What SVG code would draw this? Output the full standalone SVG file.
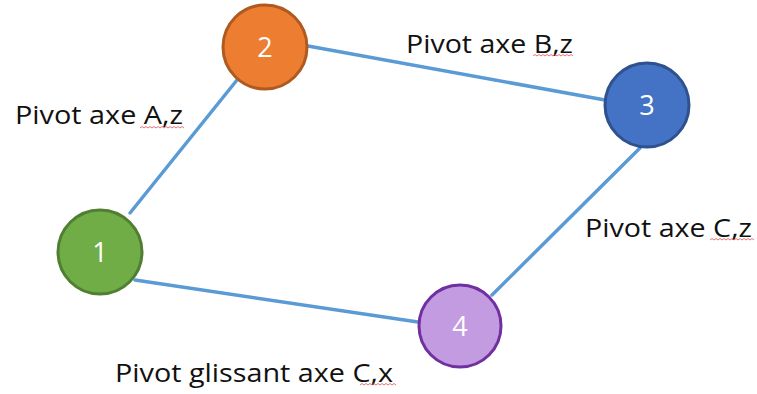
<svg xmlns="http://www.w3.org/2000/svg" width="757" height="394" viewBox="0 0 757 394">
<defs>
<style>
.edge{stroke:#5B9BD5;stroke-width:3.5;fill:none;stroke-linecap:round}
.lbl{font-family:"Open Sans","Liberation Sans",sans-serif;font-size:26px;fill:#111}
.num{font-family:"Open Sans","Liberation Sans",sans-serif;font-size:27px;fill:#fff;text-anchor:middle}
.sq{stroke:#E05050;stroke-width:1;fill:none;opacity:0.8}
</style>
</defs>
<rect width="757" height="394" fill="#fff"/>
<g id="connectors">
<line class="edge" x1="130" y1="213" x2="237" y2="80"/>
<line class="edge" x1="308" y1="46" x2="605" y2="100"/>
<line class="edge" x1="640" y1="148" x2="492" y2="295"/>
<line class="edge" x1="135" y1="280" x2="418" y2="322"/>
</g>
<g id="node1"><circle cx="100" cy="252" r="42" fill="#70AD47" stroke="#507E32" stroke-width="3"/><text class="num" x="100" y="262">1</text></g>
<g id="node2"><circle cx="265" cy="47" r="42" fill="#ED7D31" stroke="#AE5A21" stroke-width="3"/><text class="num" x="265" y="57">2</text></g>
<g id="node3"><circle cx="647" cy="105" r="42" fill="#4472C4" stroke="#2F528F" stroke-width="3"/><text class="num" x="647" y="115">3</text></g>
<g id="node4"><circle cx="460" cy="326" r="41" fill="#C39BE0" stroke="#7030A0" stroke-width="3"/><text class="num" x="460" y="336">4</text></g>
<g id="labels">
<text class="lbl" x="15" y="124" textLength="168" lengthAdjust="spacingAndGlyphs">Pivot axe A,z</text>
<text class="lbl" x="406" y="53" textLength="167" lengthAdjust="spacingAndGlyphs">Pivot axe B,z</text>
<text class="lbl" x="585" y="237" textLength="167" lengthAdjust="spacingAndGlyphs">Pivot axe C,z</text>
<text class="lbl" x="115" y="382" textLength="278" lengthAdjust="spacingAndGlyphs">Pivot glissant axe C,x</text>
<path class="sq" d="M140 128 l2 -1.5 l2 1.5 l2 -1.5 l2 1.5 l2 -1.5 l2 1.5 l2 -1.5 l2 1.5 l2 -1.5 l2 1.5 l2 -1.5 l2 1.5 l2 -1.5 l2 1.5 l2 -1.5 l2 1.5 l2 -1.5 l2 1.5 l2 -1.5 l2 1.5 l2 -1.5 l2 1.5"/>
<path class="sq" d="M533 56 l2 -1.5 l2 1.5 l2 -1.5 l2 1.5 l2 -1.5 l2 1.5 l2 -1.5 l2 1.5 l2 -1.5 l2 1.5 l2 -1.5 l2 1.5 l2 -1.5 l2 1.5 l2 -1.5 l2 1.5 l2 -1.5 l2 1.5 l2 -1.5 l2 1.5"/>
<path class="sq" d="M710 240 l2 -1.5 l2 1.5 l2 -1.5 l2 1.5 l2 -1.5 l2 1.5 l2 -1.5 l2 1.5 l2 -1.5 l2 1.5 l2 -1.5 l2 1.5 l2 -1.5 l2 1.5 l2 -1.5 l2 1.5 l2 -1.5 l2 1.5 l2 -1.5 l2 1.5 l2 -1.5 l2 1.5"/>
<path class="sq" d="M360 385 l2 -1.5 l2 1.5 l2 -1.5 l2 1.5 l2 -1.5 l2 1.5 l2 -1.5 l2 1.5 l2 -1.5 l2 1.5 l2 -1.5 l2 1.5 l2 -1.5 l2 1.5 l2 -1.5 l2 1.5 l2 -1.5 l2 1.5"/>
</g>
</svg>
